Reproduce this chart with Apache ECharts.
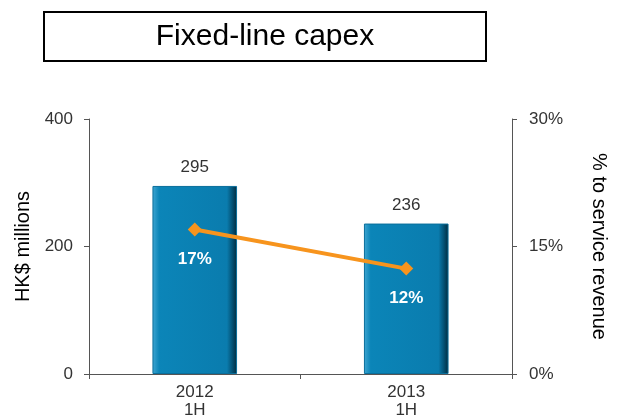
<!DOCTYPE html>
<html>
<head>
<meta charset="utf-8">
<script src="https://cdn.jsdelivr.net/npm/echarts@6/dist/echarts.min.js"></script>
<style>
  html, body { margin: 0; padding: 0; background: #fff; }
  #chart { width: 617px; height: 419px; }
</style>
</head>
<body>
<div id="chart"></div>
<script>
const categories = ['2012\n1H', '2013\n1H']
const capex = [295, 236]
const pctOfRevenue = [17, 12.4]
const pctLabels = ['17%', '12%']
const leftTicks = [0, 200, 400]
const rightTicks = ['0%', '15%', '30%']

const chart = echarts.init(document.getElementById('chart'))
const font = 'Liberation Sans, Arial, sans-serif'

// horizontal shading gives the bars their bevelled look
const barColor = new echarts.graphic.LinearGradient(0, 0, 1, 0, [
  { offset: 0, color: '#3fa6d2' },
  { offset: 0.08, color: '#0b85b8' },
  { offset: 0.88, color: '#0a7cae' },
  { offset: 0.94, color: '#045478' },
  { offset: 1, color: '#012a3d' }
])

const option = {
  animation: false,
  textStyle: { fontFamily: font },
  graphic: [
    {
      type: 'rect',
      shape: { x: 44, y: 12, width: 442, height: 49 },
      style: { fill: '#fff', stroke: '#000', lineWidth: 2 }
    },
    {
      type: 'text',
      x: 265,
      y: 37,
      style: {
        text: 'Fixed-line capex',
        font: '30px ' + font,
        fill: '#000',
        align: 'center',
        verticalAlign: 'middle'
      }
    }
  ],
  grid: { left: 89, right: 101, top: 119, bottom: 44 },
  xAxis: {
    type: 'category',
    data: categories,
    axisLine: { lineStyle: { color: '#555' } },
    axisTick: { show: true, length: 5, lineStyle: { color: '#555' } },
    axisLabel: { color: '#333', fontSize: 17, lineHeight: 18, margin: 9 }
  },
  yAxis: [
    {
      type: 'value',
      min: leftTicks[0],
      max: leftTicks[2],
      interval: 200,
      name: 'HK$ millions',
      nameLocation: 'middle',
      nameGap: 50,
      nameTextStyle: { fontSize: 20, color: '#000' },
      axisLine: { show: true, lineStyle: { color: '#555' } },
      axisTick: { show: true, length: 5, lineStyle: { color: '#555' } },
      axisLabel: { color: '#333', fontSize: 17, margin: 16 },
      splitLine: { show: false }
    },
    {
      type: 'value',
      min: 0,
      max: 30,
      interval: 15,
      position: 'right',
      name: '% to service revenue',
      nameLocation: 'middle',
      nameRotate: -90,
      nameGap: 77,
      nameTextStyle: { fontSize: 20, color: '#000' },
      axisLine: { show: true, lineStyle: { color: '#555' } },
      axisTick: { show: true, length: 5, lineStyle: { color: '#555' } },
      axisLabel: {
        color: '#333',
        fontSize: 17,
        margin: 17,
        formatter: function (v) { return rightTicks[Math.round(v / 15)] }
      },
      splitLine: { show: false }
    }
  ],
  series: [
    {
      type: 'bar',
      data: capex,
      barWidth: '40%',
      itemStyle: { color: barColor, borderColor: '#0a6f9c', borderWidth: 1 },
      label: {
        show: true,
        position: 'top',
        distance: 10,
        color: '#333',
        fontSize: 17
      }
    },
    {
      type: 'line',
      yAxisIndex: 1,
      data: pctOfRevenue,
      symbol: 'diamond',
      symbolSize: 14,
      lineStyle: { color: '#f7941d', width: 4 },
      itemStyle: { color: '#f7941d' },
      label: {
        show: true,
        position: 'bottom',
        distance: 14,
        color: '#fff',
        fontSize: 17,
        fontWeight: 'bold',
        formatter: function (p) { return pctLabels[p.dataIndex] }
      }
    }
  ]
}

chart.setOption(option)
</script>
</body>
</html>
